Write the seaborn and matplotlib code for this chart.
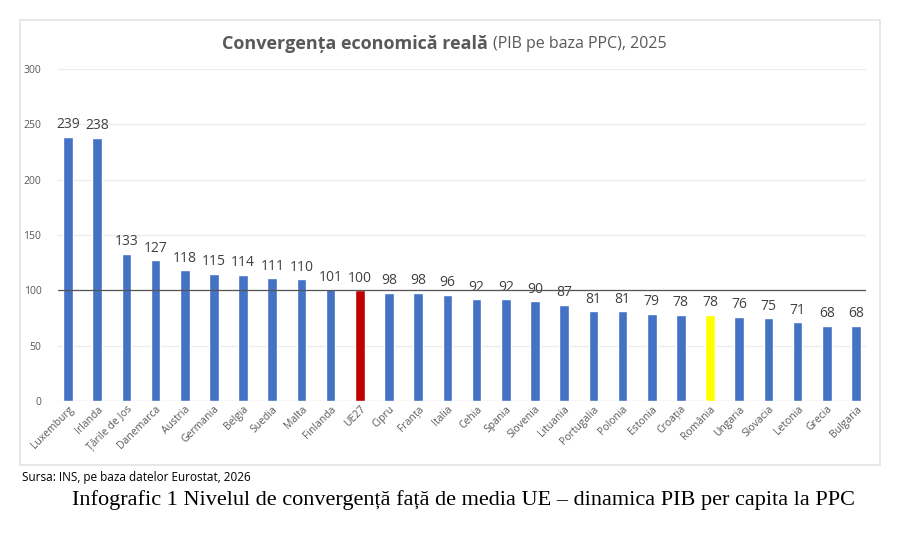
import matplotlib
matplotlib.use("Agg")
import matplotlib.pyplot as plt
import seaborn as sns
import pandas as pd
from matplotlib.patches import Rectangle

tari = ["Luxemburg", "Irlanda", "Țările de Jos", "Danemarca", "Austria", "Germania",
        "Belgia", "Suedia", "Malta", "Finlanda", "UE27", "Cipru", "Franța", "Italia",
        "Cehia", "Spania", "Slovenia", "Lituania", "Portugalia", "Polonia", "Estonia",
        "Croația", "România", "Ungaria", "Slovacia", "Letonia", "Grecia", "Bulgaria"]
valori = [239, 238, 133, 127, 118, 115, 114, 111, 110, 101, 100, 98, 98, 96,
          92, 92, 90, 87, 81, 81, 79, 78, 78, 76, 75, 71, 68, 68]

culori = {"UE27": "#C00000", "România": "#FFFF00"}
paleta = [culori.get(t, "#4472C4") for t in tari]

df = pd.DataFrame({"tara": tari, "valoare": valori})

sns.set_style("white")
plt.rcParams["font.family"] = ["Open Sans", "DejaVu Sans"]

fig = plt.figure(figsize=(9, 5.39), dpi=100)

# chenarul graficului (ca in Excel)
fig.patches.append(Rectangle((20 / 900, 1 - 465 / 539), 860 / 900, 445 / 539,
                             transform=fig.transFigure, fill=False,
                             edgecolor="#e3e3e3", linewidth=1.2, zorder=0))

ax = fig.add_axes([58 / 900, 1 - 401 / 539, 808 / 900, 332 / 539])
sns.barplot(data=df, x="tara", y="valoare", hue="tara", palette=paleta,
            legend=False, width=0.33, saturation=1, ax=ax, zorder=3)

ax.set_ylim(0, 300)
ax.set_xlim(-0.344, 27.344)
ax.set_yticks(range(0, 301, 50))
ax.yaxis.grid(True, color="#ececec", linewidth=0.9)
ax.set_axisbelow(True)
for s in ax.spines.values():
    s.set_visible(False)
ax.axhline(100, color="#555555", linewidth=0.9, zorder=4)
ax.axhline(0, color="#e0e0e0", linewidth=0.9, zorder=2)

ax.set_xlabel("")
ax.set_ylabel("")
ax.tick_params(axis="y", labelsize=7.5, labelcolor="#595959", length=0, pad=12)
ax.tick_params(axis="x", labelsize=7.5, labelcolor="#595959", length=0, pad=2)
plt.setp(ax.get_xticklabels(), rotation=45, ha="right", rotation_mode="anchor")

for i, v in enumerate(valori):
    ax.text(i, v + 4, str(v), ha="center", va="bottom", fontsize=10, color="#404040")

# titlul: partea bold + partea normala
fig.text(488 / 900, 1 - 44 / 539, "Convergența economică reală", ha="right", va="center",
         fontsize=13, fontweight="bold", color="#595959")
fig.text(493 / 900, 1 - 44 / 539, "(PIB pe baza PPC), 2025", ha="left", va="center",
         fontsize=11.5, color="#595959")

fig.text(22 / 900, 1 - 478 / 539, "Sursa: INS, pe baza datelor Eurostat, 2026",
         ha="left", va="center", fontsize=8.5, color="#000000")
fig.text(463 / 900, 1 - 500 / 539,
         "Infografic 1 Nivelul de convergență față de media UE – dinamica PIB per capita la PPC",
         ha="center", va="center", fontsize=16, color="#000000",
         family=["Liberation Serif", "DejaVu Serif"])

fig.savefig("out.png", dpi=100)
